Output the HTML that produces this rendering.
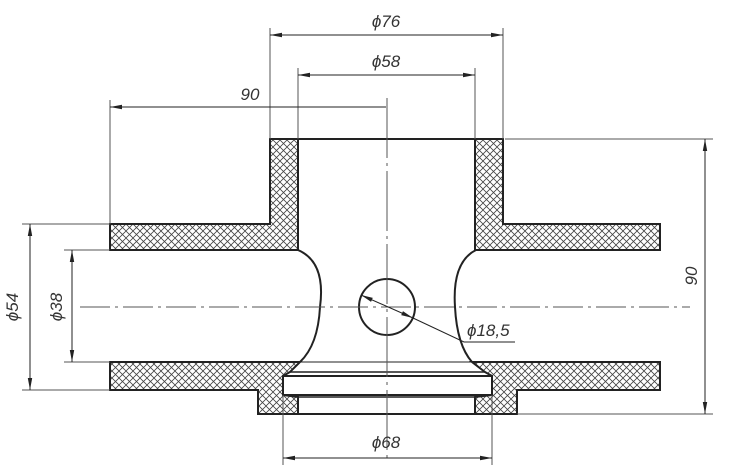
<!DOCTYPE html>
<html><head><meta charset="utf-8"><style>
html,body{margin:0;padding:0;background:#fff;}
svg{display:block}
text{font-family:"Liberation Sans",sans-serif;font-style:italic;fill:#333;font-size:17px}
</style></head><body>
<svg width="733" height="468" viewBox="0 0 733 468" xmlns="http://www.w3.org/2000/svg">
<defs>
<pattern id="h" width="7" height="7" patternUnits="userSpaceOnUse">
<path d="M0,0 L7,7 M7,0 L0,7" stroke="#444" stroke-width="0.8"/>
</pattern>
<marker id="a" markerWidth="12" markerHeight="6" refX="12" refY="3" orient="auto-start-reverse" markerUnits="userSpaceOnUse">
<path d="M0,0.8 L12,3 L0,5.2 Z" fill="#222"/>
</marker>
</defs>
<g fill="url(#h)" stroke="#222" stroke-width="2">
<path d="M110,224 L270,224 L270,139 L298,139 L298,250 L110,250 Z"/>
<path d="M475,139 L503,139 L503,224 L660,224 L660,250 L475,250 Z"/>
<path d="M110,362 L300,362 L290,372 L283,376 L283,395 L298,397 L298,414 L258,414 L258,390 L110,390 Z"/>
<path d="M660,362 L472,362 L485,372 L492,376 L492,395 L475,397 L475,414 L517,414 L517,390 L660,390 Z"/>
</g>
<g fill="none" stroke="#222" stroke-width="2">
<line x1="298" y1="139" x2="475" y2="139"/>
<path d="M298,250 Q326,262 320,307 Q318,345 300,362"/>
<path d="M476,250 Q452,262 455,307 Q457,345 472,362"/>
<line x1="300" y1="362" x2="472" y2="362" stroke-width="1"/>
<line x1="290" y1="372" x2="485" y2="372" stroke-width="1.5"/>
<line x1="283" y1="376" x2="492" y2="376"/>
<line x1="283" y1="395" x2="492" y2="395"/>
<line x1="298" y1="397" x2="475" y2="397" stroke-width="1.5"/>
<line x1="298" y1="414" x2="475" y2="414"/>
<circle cx="387" cy="307" r="28"/>
</g>
<g stroke="#555" stroke-width="1" fill="none">
<line x1="80" y1="307" x2="690" y2="307" stroke-dasharray="30,5,3,5"/>
<line x1="387" y1="98" x2="387" y2="460" stroke-dasharray="60,5,3,5"/>
<!-- extension lines -->
<line x1="270" y1="28" x2="270" y2="139"/>
<line x1="503" y1="28" x2="503" y2="139"/>
<line x1="298" y1="68" x2="298" y2="139"/>
<line x1="475" y1="68" x2="475" y2="139"/>
<line x1="110" y1="100" x2="110" y2="224"/>
<line x1="505" y1="139" x2="713" y2="139"/>
<line x1="517" y1="414" x2="713" y2="414"/>
<line x1="22" y1="224" x2="110" y2="224"/>
<line x1="22" y1="390" x2="110" y2="390"/>
<line x1="64" y1="250" x2="110" y2="250"/>
<line x1="64" y1="362" x2="110" y2="362"/>
<line x1="283" y1="395" x2="283" y2="465"/>
<line x1="492" y1="395" x2="492" y2="465"/>
</g>
<g stroke="#222" stroke-width="1" fill="none" marker-start="url(#a)" marker-end="url(#a)">
<line x1="270" y1="35" x2="503" y2="35"/>
<line x1="298" y1="75" x2="475" y2="75"/>
<line x1="110" y1="107" x2="386" y2="107" marker-start="url(#a)" marker-end="none"/>
<line x1="705" y1="139" x2="705" y2="414"/>
<line x1="30" y1="224" x2="30" y2="390"/>
<line x1="72" y1="250" x2="72" y2="362"/>
<line x1="283" y1="458" x2="492" y2="458"/>
<line x1="361" y1="295" x2="413" y2="318"/>
</g>
<path d="M413,318 L464,342 L515,342" stroke="#222" stroke-width="1" fill="none"/>
<text x="386" y="27" text-anchor="middle">ϕ76</text>
<text x="386" y="67" text-anchor="middle">ϕ58</text>
<text x="250" y="100" text-anchor="middle">90</text>
<text x="386" y="448" text-anchor="middle">ϕ68</text>
<text x="467" y="336">ϕ18,5</text>
<text transform="translate(697,276) rotate(-90)" text-anchor="middle">90</text>
<text transform="translate(18,307) rotate(-90)" text-anchor="middle">ϕ54</text>
<text transform="translate(62,307) rotate(-90)" text-anchor="middle">ϕ38</text>
</svg>
</body></html>
